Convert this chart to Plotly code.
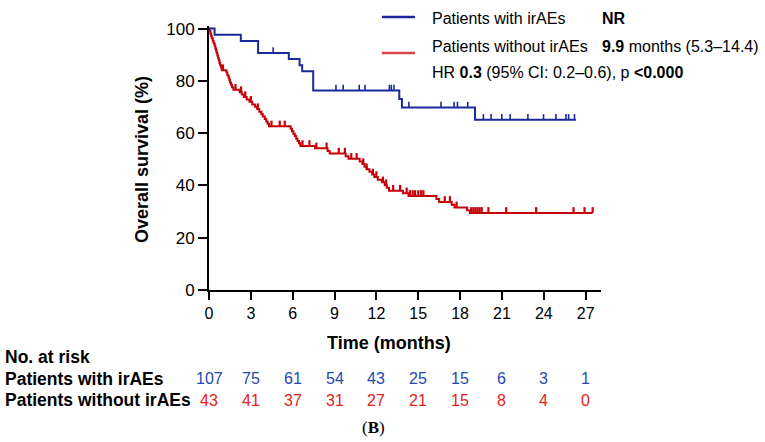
import numpy as np
import plotly.graph_objects as go

# ---------------- data ----------------
blue_times = [0, 0.4, 2.28, 3.52, 5.72, 6.49, 6.68, 7.47, 13.64, 13.83, 19.07]
blue_surv = [100, 97.7, 95.3, 90.7, 88.4, 86.0, 83.7, 76.3, 73.1, 69.8, 65.1]
blue_end = 26.3
blue_censor = [4.6, 9.1, 9.62, 10.77, 11.18, 12.93, 13.07, 13.26, 14.33, 16.63, 17.57,
               17.81, 18.55, 19.67, 20.22, 20.99, 21.59, 22.86, 23.98, 24.87, 25.59, 25.78, 26.2]

red_times = [0, 0.05, 0.1, 0.15, 0.2, 0.27, 0.33, 0.4, 0.45, 0.5, 0.55, 0.6, 0.65, 0.7, 0.75,
             0.8, 0.87, 0.92, 1.25, 1.32, 1.4, 1.45, 1.5, 1.58, 1.65, 1.75, 2.2, 2.35, 2.5, 2.7,
             2.9, 3.1, 3.3, 3.45, 3.6, 3.75, 3.85, 4.0, 4.1, 4.2, 4.3, 5.85, 5.95, 6.05, 6.15,
             6.25, 6.35, 6.45, 6.55, 7.6, 8.5, 8.65, 9.8, 10.0, 10.8, 11.0, 11.15, 11.3, 11.5,
             11.7, 11.85, 12.1, 12.4, 12.6, 12.75, 12.9, 13.9, 14.3, 16.3, 16.5, 17.4, 17.6,
             18.5, 18.7]
red_surv = [100, 99.1, 98.1, 97.2, 96.3, 95.3, 94.4, 93.5, 92.5, 91.6, 90.7, 89.7, 88.8, 87.9,
            86.9, 86.0, 85.0, 84.1, 83.2, 82.2, 81.3, 80.4, 79.4, 78.5, 77.6, 76.6, 75.7, 74.8,
            73.8, 72.9, 72.0, 71.0, 70.1, 69.2, 68.2, 67.3, 66.4, 65.4, 64.5, 63.6, 62.6, 61.7,
            60.7, 59.8, 58.9, 57.9, 57.0, 56.1, 55.1, 54.2, 53.2, 52.2, 51.2, 50.2, 49.2, 48.2,
            47.2, 46.2, 45.2, 44.2, 43.2, 42.2, 41.2, 40.1, 39.1, 38.0, 37.0, 36.0, 34.8, 33.7,
            32.6, 31.6, 30.5, 29.5]
red_end = 27.5
red_censor = [1.0, 1.9, 2.3, 2.6, 3.0, 3.5, 4.48, 5.07, 5.43, 6.7, 7.2, 7.7, 8.43, 9.3, 9.74,
              10.2, 10.58, 11.06, 11.3, 11.75, 12.0, 12.47, 12.7, 13.2, 13.7, 14.17, 14.4, 14.6,
              14.77, 15.0, 15.2, 15.37, 16.9, 17.27, 17.75, 18.8, 18.95, 19.1, 19.25, 19.4,
              19.55, 20.03, 21.3, 23.45, 26.13, 26.92, 27.5]

x_ticks = [0, 3, 6, 9, 12, 15, 18, 21, 24, 27]
y_ticks = [0, 20, 40, 60, 80, 100]
risk_with = [107, 75, 61, 54, 43, 25, 15, 6, 3, 1]
risk_without = [43, 41, 37, 31, 27, 21, 15, 8, 4, 0]

BLUE = "#1B2A9A"
RED = "#C8000A"
BLUE_T = "#1F48B0"
RED_T = "#E32119"
FONT = "Arial, Liberation Sans, sans-serif"

# ---------------- layout geometry ----------------
W, H = 765, 442
ML, MR, MT, MB = 209, 164, 26, 152
XR = [0, 28.1]
YR = [0, 101]


def px(xp):
    return (xp - ML) / (W - ML - MR)


def py(yp):
    return (H - MB - yp) / (H - MT - MB)


def step_xy(times, surv, end):
    return list(times) + [end], list(surv) + [surv[-1]]


def censor_xy(times, surv, cens, h):
    t = np.array(times)
    s = np.array(surv)
    xs, ys = [], []
    for c in cens:
        i = np.searchsorted(t, c, side="right") - 1
        v = s[i]
        xs += [c, c, None]
        ys += [v, v + h, None]
    return xs, ys


fig = go.Figure()
for times, surv, end, cens, col, tw in [
    (red_times, red_surv, red_end, red_censor, RED, 2.2),
    (blue_times, blue_surv, blue_end, blue_censor, BLUE, 1.6),
]:
    x, y = step_xy(times, surv, end)
    fig.add_trace(go.Scatter(x=x, y=y, mode="lines", line=dict(color=col, width=2, shape="hv"),
                             showlegend=False, hoverinfo="skip"))
    cx, cy = censor_xy(times, surv, cens, 2.2)
    fig.add_trace(go.Scatter(x=cx, y=cy, mode="lines", line=dict(color=col, width=tw),
                             showlegend=False, hoverinfo="skip"))

fig.update_xaxes(range=XR, tickvals=x_ticks, ticktext=[str(v) for v in x_ticks],
                 showline=True, linecolor="black", linewidth=1.8, ticks="outside",
                 ticklen=8, tickwidth=1.8, tickcolor="black", showgrid=False, zeroline=False,
                 tickfont=dict(family=FONT, size=16, color="black"))
fig.update_yaxes(range=YR, tickvals=y_ticks, ticktext=[str(v) for v in y_ticks],
                 showline=True, linecolor="black", linewidth=1.8, ticks="outside",
                 ticklen=9, tickwidth=1.8, tickcolor="black", showgrid=False, zeroline=False,
                 tickfont=dict(family=FONT, size=17, color="black"))

ann = []


def add_text(xp, yp, text, size=16, color="black", xanchor="center", family=FONT, angle=0,
             xref="paper"):
    ann.append(dict(x=xp if xref != "paper" else px(xp), y=py(yp), xref=xref, yref="paper",
                    text=text, textangle=angle, xanchor=xanchor, yanchor="middle",
                    showarrow=False, font=dict(family=family, size=size, color=color)))


# axis titles
add_text(142, 160, "<b>Overall survival (%)</b>", size=18, angle=-90)
add_text(389, 343, "<b>Time (months)</b>", size=18)

# legend
fig.add_shape(type="line", xref="paper", yref="paper", x0=px(382), x1=px(415), y0=py(17), y1=py(17),
              line=dict(color=BLUE, width=2.5))
fig.add_shape(type="line", xref="paper", yref="paper", x0=px(382), x1=px(415), y0=py(53), y1=py(53),
              line=dict(color="#D94545", width=2.5))
add_text(430, 18, "Patients with irAEs", xanchor="left")
add_text(600, 18, "<b>NR</b>", xanchor="left")
add_text(430, 46.5, "Patients without irAEs", xanchor="left")
add_text(600, 46.5, "<b>9.9</b> months (5.3–14.4)", xanchor="left")
add_text(430, 73, "HR <b>0.3</b> (95% CI: 0.2–0.6), p <b>&lt;0.000</b>", xanchor="left")

# at-risk table
add_text(3, 356.5, "<b>No. at risk</b>", size=17.5, xanchor="left")
add_text(3, 378.5, "<b>Patients with irAEs</b>", size=17.5, xanchor="left")
add_text(3, 400, "<b>Patients without irAEs</b>", size=17.5, xanchor="left")
for t, a, b in zip(x_ticks, risk_with, risk_without):
    add_text(t, 378.5, str(a), color=BLUE_T, xref="x")
    add_text(t, 400, str(b), color=RED_T, xref="x")

add_text(373, 427, "(<b>B</b>)", size=17, family="Liberation Serif, Times New Roman, serif")

fig.update_layout(width=W, height=H, margin=dict(l=ML, r=MR, t=MT, b=MB),
                  paper_bgcolor="white", plot_bgcolor="white", annotations=ann,
                  showlegend=False)

fig.write_html("out.html")
